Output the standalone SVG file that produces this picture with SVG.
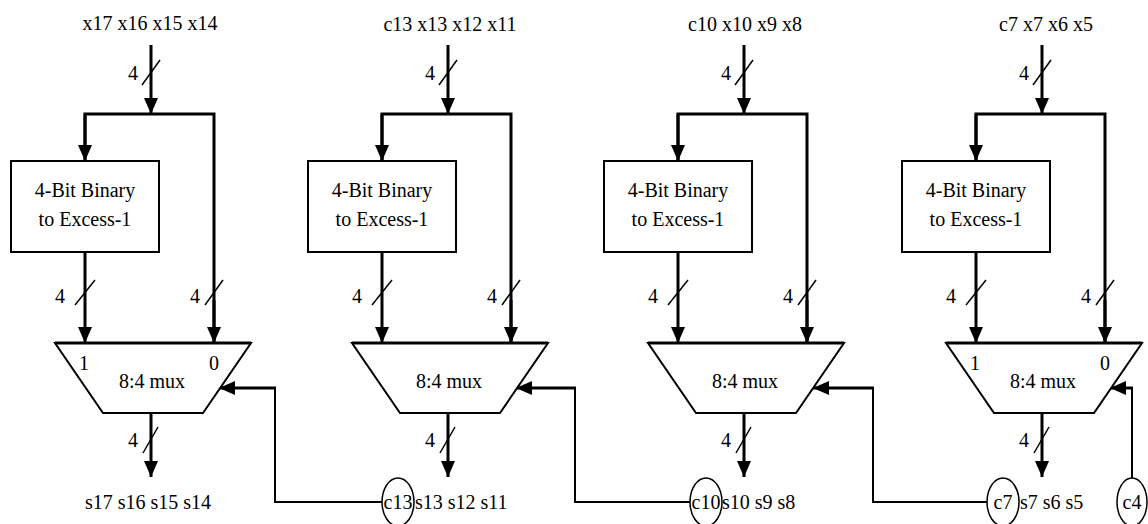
<svg xmlns="http://www.w3.org/2000/svg" width="1148" height="524" viewBox="0 0 1148 524">
<style>
text{font-family:"Liberation Serif","Times New Roman",serif;font-size:20px;fill:#000;text-anchor:middle}
.st{text-anchor:start}
.bus{stroke:#000;stroke-width:3;fill:none}
.thin{stroke:#000;stroke-width:2;fill:none}
.sl{stroke:#000;stroke-width:1.5}
.box{fill:#fff;stroke:#000;stroke-width:2}
.cc{fill:#fff;stroke:#000;stroke-width:1.5}
</style>
<defs>
<marker id="ah" viewBox="0 0 16 14" refX="16" refY="7" markerWidth="16" markerHeight="14" markerUnits="userSpaceOnUse" orient="auto">
<path d="M0,0 L16,7 L0,14 z" fill="#000"/>
</marker>
</defs>

<g id="connectors">
<!-- block 1 -->
<line class="bus" x1="151" y1="45" x2="151" y2="114" marker-end="url(#ah)"/>
<polyline class="bus" points="85,161 85,114 214,114 214,343"/>
<line class="bus" x1="85" y1="114" x2="85" y2="161" marker-end="url(#ah)"/>
<line class="bus" x1="214" y1="300" x2="214" y2="343" marker-end="url(#ah)"/>
<line class="bus" x1="85" y1="252" x2="85" y2="343" marker-end="url(#ah)"/>
<line class="bus" x1="151" y1="413" x2="151" y2="477" marker-end="url(#ah)"/>
<!-- block 2 -->
<line class="bus" x1="448" y1="45" x2="448" y2="114" marker-end="url(#ah)"/>
<polyline class="bus" points="382,161 382,114 511,114 511,343"/>
<line class="bus" x1="382" y1="114" x2="382" y2="161" marker-end="url(#ah)"/>
<line class="bus" x1="511" y1="300" x2="511" y2="343" marker-end="url(#ah)"/>
<line class="bus" x1="382" y1="252" x2="382" y2="343" marker-end="url(#ah)"/>
<line class="bus" x1="448" y1="413" x2="448" y2="477" marker-end="url(#ah)"/>
<!-- block 3 -->
<line class="bus" x1="744" y1="45" x2="744" y2="114" marker-end="url(#ah)"/>
<polyline class="bus" points="678,161 678,114 807,114 807,343"/>
<line class="bus" x1="678" y1="114" x2="678" y2="161" marker-end="url(#ah)"/>
<line class="bus" x1="807" y1="300" x2="807" y2="343" marker-end="url(#ah)"/>
<line class="bus" x1="678" y1="252" x2="678" y2="343" marker-end="url(#ah)"/>
<line class="bus" x1="744" y1="413" x2="744" y2="477" marker-end="url(#ah)"/>
<!-- block 4 -->
<line class="bus" x1="1042" y1="45" x2="1042" y2="114" marker-end="url(#ah)"/>
<polyline class="bus" points="976,161 976,114 1105,114 1105,343"/>
<line class="bus" x1="976" y1="114" x2="976" y2="161" marker-end="url(#ah)"/>
<line class="bus" x1="1105" y1="300" x2="1105" y2="343" marker-end="url(#ah)"/>
<line class="bus" x1="976" y1="252" x2="976" y2="343" marker-end="url(#ah)"/>
<line class="bus" x1="1042" y1="413" x2="1042" y2="477" marker-end="url(#ah)"/>
<!-- carry select wires -->
<polyline class="thin" points="382,502 275,502 275,388"/>
<line class="bus" x1="276" y1="388" x2="219" y2="388" marker-end="url(#ah)"/>
<polyline class="thin" points="690,502 575,502 575,388"/>
<line class="bus" x1="576" y1="388" x2="516" y2="388" marker-end="url(#ah)"/>
<polyline class="thin" points="987,502 873,502 873,388"/>
<line class="bus" x1="874" y1="388" x2="813" y2="388" marker-end="url(#ah)"/>
<line class="thin" x1="1132" y1="478" x2="1132" y2="388"/>
<line class="bus" x1="1133" y1="388" x2="1110" y2="388" marker-end="url(#ah)"/>
</g>

<g id="bus-widths">
<line class="sl" x1="142" y1="85" x2="160" y2="60"/><text x="133" y="80">4</text>
<line class="sl" x1="75" y1="305" x2="95" y2="280"/><text x="60" y="303">4</text>
<line class="sl" x1="205" y1="305" x2="223" y2="280"/><text x="195" y="303">4</text>
<line class="sl" x1="143" y1="453" x2="158" y2="427"/><text x="133" y="447">4</text>

<line class="sl" x1="439" y1="85" x2="457" y2="60"/><text x="430" y="80">4</text>
<line class="sl" x1="372" y1="305" x2="392" y2="280"/><text x="357" y="303">4</text>
<line class="sl" x1="502" y1="305" x2="520" y2="280"/><text x="492" y="303">4</text>
<line class="sl" x1="440" y1="453" x2="455" y2="427"/><text x="430" y="447">4</text>

<line class="sl" x1="735" y1="85" x2="753" y2="60"/><text x="726" y="80">4</text>
<line class="sl" x1="668" y1="305" x2="688" y2="280"/><text x="653" y="303">4</text>
<line class="sl" x1="798" y1="305" x2="816" y2="280"/><text x="788" y="303">4</text>
<line class="sl" x1="736" y1="453" x2="751" y2="427"/><text x="726" y="447">4</text>

<line class="sl" x1="1033" y1="85" x2="1051" y2="60"/><text x="1024" y="80">4</text>
<line class="sl" x1="966" y1="305" x2="986" y2="280"/><text x="951" y="303">4</text>
<line class="sl" x1="1096" y1="305" x2="1114" y2="280"/><text x="1086" y="303">4</text>
<line class="sl" x1="1034" y1="453" x2="1049" y2="427"/><text x="1024" y="447">4</text>
</g>

<g id="block1">
<text x="150" y="30">x17 x16 x15 x14</text>
<rect class="box" x="11" y="161" width="148" height="91"/>
<text x="85" y="197">4-Bit Binary</text>
<text x="85" y="226">to Excess-1</text>
<polygon class="box" points="55,343 251,343 203,413 103,413"/>
<line class="bus" x1="55" y1="343" x2="251" y2="343"/>
<text x="84" y="370">1</text>
<text x="214" y="370">0</text>
<text x="152" y="388">8:4 mux</text>
<text x="148" y="509">s17 s16 s15 s14</text>
</g>

<g id="block2">
<text x="450" y="31">c13 x13 x12 x11</text>
<rect class="box" x="308" y="161" width="148" height="91"/>
<text x="382" y="197">4-Bit Binary</text>
<text x="382" y="226">to Excess-1</text>
<polygon class="box" points="352,343 548,343 500,413 400,413"/>
<line class="bus" x1="352" y1="343" x2="548" y2="343"/>
<text x="449" y="388">8:4 mux</text>
<text class="st" x="415" y="509">s13 s12 s11</text>
</g>

<g id="block3">
<text x="745" y="31">c10 x10 x9 x8</text>
<rect class="box" x="604" y="161" width="148" height="91"/>
<text x="678" y="197">4-Bit Binary</text>
<text x="678" y="226">to Excess-1</text>
<polygon class="box" points="648,343 844,343 796,413 696,413"/>
<line class="bus" x1="648" y1="343" x2="844" y2="343"/>
<text x="745" y="388">8:4 mux</text>
<text class="st" x="722" y="509">s10 s9 s8</text>
</g>

<g id="block4">
<text x="1046" y="31">c7 x7 x6 x5</text>
<rect class="box" x="902" y="161" width="148" height="91"/>
<text x="976" y="197">4-Bit Binary</text>
<text x="976" y="226">to Excess-1</text>
<polygon class="box" points="946,343 1142,343 1094,413 994,413"/>
<line class="bus" x1="946" y1="343" x2="1142" y2="343"/>
<text x="975" y="370">1</text>
<text x="1105" y="370">0</text>
<text x="1043" y="388">8:4 mux</text>
<text class="st" x="1020" y="509">s7 s6 s5</text>
</g>

<g id="carry-c13">
<ellipse class="cc" cx="398" cy="502" rx="16" ry="24"/>
<text x="398" y="509">c13</text>
</g>
<g id="carry-c10">
<ellipse class="cc" cx="706" cy="502" rx="16" ry="24"/>
<text x="706" y="509">c10</text>
</g>
<g id="carry-c7">
<ellipse class="cc" cx="1003" cy="502" rx="16" ry="24"/>
<text x="1003" y="509">c7</text>
</g>
<g id="carry-c4">
<ellipse class="cc" cx="1132" cy="502" rx="15" ry="24"/>
<text x="1132" y="509">c4</text>
</g>
</svg>
